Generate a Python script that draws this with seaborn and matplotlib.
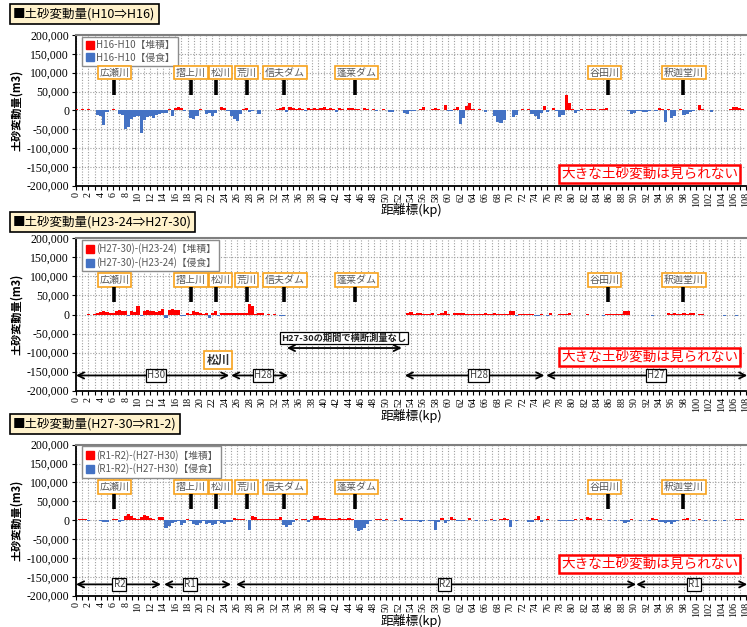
import numpy as np
import pandas as pd
import matplotlib
matplotlib.use("Agg")
import matplotlib.pyplot as plt
import seaborn as sns
from matplotlib.lines import Line2D
from matplotlib.ticker import MultipleLocator, FuncFormatter

sns.set_theme(style="white")
plt.rcParams["font.family"] = ["Noto Sans CJK JP", "DejaVu Sans"]

# ---------------- data (thousand m3, every 0.5 kp from 0 to 107.5) ----------------
p1_h10_h16 = [
    3, 2, 3, 2, 4, 2, 1, -12, -16, -38, -5, 2, 3, 1, -10, -12, -50, -45, -22, -18,
    -15, -60, -25, -18, -14, -20, -12, -10, -8, -8, 3, -15, 6, 8, 5, -3, 2, -20, -22, -15,
    3, 2, -10, -6, -15, -8, 2, 8, 7, -3, -15, -22, -28, -10, 4, 5, -5, -3, 2, -10,
    2, 2, 1, 2, 2, 3, 5, 8, -4, 10, 7, 4, 6, 3, -3, 5, 4, 6, 3, 5,
    8, 3, 5, 4, -5, 6, 3, 2, 5, 7, 3, 4, 2, 6, 3, 2, 3, -2, 2, 3,
    2, -5, -4, 2, 1, 2, -8, -10, -2, -3, 2, 3, 8, 2, 2, 3, 5, 3, 2, 15,
    -3, -2, 3, 8, -35, -20, 12, 20, 3, 2, 3, 2, -5, 2, 1, -15, -30, -33, -25, 2,
    2, -18, -12, 2, 3, 2, 3, -10, -15, -22, -8, 12, -5, 2, 5, -3, -18, -12, 40, 20,
    3, -8, -3, 3, 2, 4, 4, 3, 2, 4, 3, 5, 2, 1, 2, 2, 2, 2, -3, -10,
    -8, -3, -2, -5, -4, -2, 2, -2, 5, 4, -30, 3, -20, -15, 2, 4, -12, -10, -5, -3,
    2, 15, 4, 2, 2, -5, 2, 2, 1, 2, 2, 3, 10, 8, 5, 3,
]
p2_h23_h27 = [
    -1, -1, 0, -1, 1, -1, 2, 4, 6, 8, 6, 4, 5, 10, 11, 9, 8, -5, 8, 7,
    22, -3, 10, 12, 10, 8, 6, 9, 15, -10, 12, 15, 11, 13, -5, -5, 3, 2, 8, 7,
    3, 2, 4, -8, 3, 10, -3, 4, 3, 5, 4, 3, 3, 4, 5, 3, 28, 22, 2, 3,
    3, -2, 1, -2, 2, -2, -5, -3, 0, 0, 0, 0, 0, 0, 0, 0, 0, 0, 0, 0,
    0, 0, 0, 0, 0, 0, 0, 0, 0, 0, 0, 0, 0, 0, 0, 0, 0, 0, 0, 0,
    0, 0, 0, 0, 0, 0, 0, 5, 6, 2, 3, 3, 2, 1, 2, 3, -2, 2, 3, 10,
    2, -2, 5, 4, 3, 3, 2, 2, 1, 2, 2, 2, 3, 2, 2, 3, 2, 2, 2, 2,
    10, 8, -5, 2, 2, 2, 2, 1, -3, -5, 2, -2, -3, 3, -2, -2, 2, 2, 2, 3,
    -1, -1, -2, -1, -1, 2, -1, -1, -2, -2, -3, 2, 2, 2, 2, 2, 2, 8, 8, -1,
    -1, -2, -1, -1, -2, -1, -3, -1, -1, -1, -1, 3, 2, 3, 2, 2, 3, 2, 3, 5,
    -1, 2, 2, -1, -2, -2, -1, -2, -2, -3, -2, -2, -2, -3, -2, -2,
]
p3_h27_r1 = [
    1, 2, 3, 2, -1, 1, 1, 1, -3, -5, -4, 1, 2, 2, -5, -3, 10, 17, 12, 5,
    4, 8, 15, 12, 5, 3, 1, 8, 8, -20, -15, -8, -5, -2, -12, -8, 2, -2, -10, -12,
    -8, -2, -10, -8, -12, -10, -3, -8, -10, -6, -5, 5, 3, 2, 3, 1, -25, 10, 8, 3,
    2, 2, 2, 3, 2, 4, 8, -12, -18, -12, -5, 2, 1, 3, 2, -5, 2, 12, 10, 5,
    5, 4, 3, 2, 4, 5, 3, 4, 5, 3, -20, -28, -25, -20, -10, -3, 1, 3, 2, -1,
    3, 1, 1, -1, 1, 5, -3, -1, -1, -1, -2, -5, -1, 1, -1, -1, -25, -5, 5, -8,
    -2, 8, 3, -1, -3, -1, 1, 5, 1, -1, 1, 1, -1, 1, 3, -3, 1, 2, 5, 2,
    -18, 1, -3, 1, 1, 1, -5, -4, 2, 10, -5, 1, 3, 1, 1, 1, -1, -3, -3, -2,
    -3, 3, 1, 3, 1, 8, 5, 1, 2, 2, 1, 1, -1, 1, -1, 1, -1, -8, -6, 3,
    1, 1, -1, 1, 1, -1, 5, 4, -5, -6, -8, -6, -10, -5, -2, 1, 2, 5, 1, -1,
    1, 3, 1, -1, 1, 1, -1, 1, 1, -1, 1, 1, 1, 2, 3, 3,
]
series = [p1_h10_h16, p2_h23_h27, p3_h27_r1]
kp = np.arange(len(p1_h10_h16)) * 0.5

titles = ["■土砂変動量(H10⇒H16)", "■土砂変動量(H23-24⇒H27-30)", "■土砂変動量(H27-30⇒R1-2)"]
legend_names = [
    ["H16-H10【堆積】", "H16-H10【侵食】"],
    ["(H27-30)-(H23-24)【堆積】", "(H27-30)-(H23-24)【侵食】"],
    ["(R1-R2)-(H27-H30)【堆積】", "(R1-R2)-(H27-H30)【侵食】"],
]
trib_names = ["広瀬川", "摺上川", "松川", "荒川", "信夫ダム", "蓬莱ダム", "谷田川", "釈迦堂川"]
trib_kp = [6.2, 18.6, 22.5, 27.5, 33.5, 45.0, 85.7, 97.9]
trib_label_kp = [6.2, 18.5, 23.3, 27.5, 33.7, 45.2, 85.2, 98.0]

p2_periods = ["H30", "H28", "H28", "H27"]
p2_start = [0.0, 25.0, 53.0, 75.8]
p2_end = [24.7, 34.2, 75.5, 108.2]
p2_label_kp = [12.9, 30.1, 64.9, 93.5]
p3_periods = ["R2", "R1", "R2", "R1"]
p3_start = [0.0, 14.2, 25.8, 90.3]
p3_end = [13.7, 25.0, 90.3, 108.2]
p3_label_kp = [7.0, 18.4, 59.4, 99.6]

note_text = "大きな土砂変動は見られない"
RED = "#FF0000"
BLUE = "#4472C4"
ORANGE = "#F7A21B"
GRAYTXT = "#595959"

W, H = 747, 627
fig = plt.figure(figsize=(W / 100, H / 100), dpi=100)

ax_px = [(35, 185.7), (238.3, 390.7), (444.7, 595.7)]
left_px, right_px = 76, 746
title_y = [14, 222, 424]
label_y = [100000, 90000, 88000]
bar_rng = [(40000, 80000), (33000, 71000), (30000, 70000)]
note_y = [-169000, -111500, -115000]

fmt = FuncFormatter(lambda v, p: f"{int(round(v)):,}")

for i in range(3):
    top, bot = ax_px[i]
    ax = fig.add_axes([left_px / W, 1 - bot / H, (right_px - left_px) / W, (bot - top) / H])
    vals = np.array(series[i], dtype=float) * 1000
    df = pd.DataFrame({"kp": kp,
                       "dep": np.where(vals > 0, vals, 0.0),
                       "ero": np.where(vals < 0, vals, 0.0)})
    sns.barplot(data=df, x="kp", y="dep", native_scale=True, width=1.0, color=RED,
                saturation=1, linewidth=0, errorbar=None, ax=ax, zorder=3)
    sns.barplot(data=df, x="kp", y="ero", native_scale=True, width=1.0, color=BLUE,
                saturation=1, linewidth=0, errorbar=None, ax=ax, zorder=3)
    ax.set_xlim(0, 108)
    ax.set_ylim(-200000, 200000)
    ax.xaxis.set_major_locator(MultipleLocator(2))
    ax.xaxis.set_minor_locator(MultipleLocator(1))
    ax.yaxis.set_major_locator(MultipleLocator(50000))
    ax.yaxis.set_major_formatter(fmt)
    ax.xaxis.set_major_formatter(FuncFormatter(lambda v, p: f"{int(round(v))}"))
    ax.grid(axis="x", which="both", ls=(0, (1, 1.5)), color="#a0a0a0", lw=0.8)
    ax.grid(axis="y", which="major", ls=(0, (1, 1.5)), color="#a0a0a0", lw=0.8)
    ax.set_axisbelow(True)
    ax.tick_params(axis="x", which="both", bottom=True, direction="out", length=3,
                   width=0.8, color="black")
    ax.tick_params(axis="x", which="major", labelsize=7.2, labelrotation=90, pad=1.5,
                   labelfontfamily="Liberation Serif", labelcolor="black")
    ax.tick_params(axis="y", which="major", left=True, direction="out", length=3,
                   width=0.8, color="black", labelsize=8.5, pad=2,
                   labelfontfamily="Liberation Serif", labelcolor="black")
    for s in ["left", "bottom"]:
        ax.spines[s].set_color("black")
        ax.spines[s].set_linewidth(1.3)
    ax.spines["top"].set_color("#7f7f7f")
    ax.spines["top"].set_linewidth(1.5)
    ax.spines["right"].set_visible(False)
    ax.set_xlabel("距離標(kp)", fontsize=9.2, color="black")
    ax.set_ylabel("土砂変動量(m3)", fontsize=8, color="black", fontweight="bold")
    ax.xaxis.set_label_coords(0.5, -0.118)
    ax.yaxis.set_label_coords(-0.079, 0.5)

    # legend
    handles = [Line2D([], [], marker="s", ls="", color=RED, markersize=5.5),
               Line2D([], [], marker="s", ls="", color=BLUE, markersize=5.5)]
    leg = ax.legend(handles, legend_names[i], loc="upper left", bbox_to_anchor=(0.009, 0.99),
                    fontsize=7, frameon=True, fancybox=False, edgecolor="#8c8c8c",
                    framealpha=1, handletextpad=0.2, borderpad=0.35, labelspacing=0.3,
                    handlelength=0.9, borderaxespad=0, labelcolor=GRAYTXT)
    leg.get_frame().set_linewidth(1.0)
    leg.set_zorder(6)

    # tributary labels
    for name, bx, lx in zip(trib_names, trib_kp, trib_label_kp):
        ax.text(lx, label_y[i], name, ha="center", va="center", fontsize=7.2, color=GRAYTXT,
                zorder=7, bbox=dict(boxstyle="square,pad=0.18", fc="white", ec=ORANGE, lw=1.2))
        ax.vlines(bx, bar_rng[i][0], bar_rng[i][1], color="black", lw=2.6, zorder=7)

    # note
    ax.text(92.5, note_y[i], note_text, ha="center", va="center", fontsize=9.8, color=RED,
            zorder=8, bbox=dict(boxstyle="square,pad=0.15", fc="white", ec=RED, lw=1.8))

    # title
    fig.text(13 / W, 1 - title_y[i] / H, titles[i], ha="left", va="center", fontsize=9,
             color="black", bbox=dict(boxstyle="square,pad=0.28", fc="#FFF2CC", ec="black", lw=1.2))

    def darrow(x0, x1, y):
        ax.annotate("", xy=(x1, y), xytext=(x0, y), annotation_clip=False, zorder=5,
                    arrowprops=dict(arrowstyle="<->", color="black", lw=1.3,
                                    shrinkA=0, shrinkB=0, mutation_scale=11))

    def plabel(x, y, t):
        ax.text(x, y, t, ha="center", va="center", fontsize=7, color="#404040", zorder=6,
                bbox=dict(boxstyle="square,pad=0.12", fc="white", ec="black", lw=0.9))

    if i == 1:
        for s, e, t, lx in zip(p2_start, p2_end, p2_periods, p2_label_kp):
            darrow(s, e, -160000)
            plabel(lx, -160000, t)
        darrow(34.0, 52.5, -88000)
        ax.text(43.2, -61500, "H27-30の期間で横断測量なし", ha="center", va="center",
                fontsize=6.7, fontweight="bold", color="#202020", zorder=6,
                bbox=dict(boxstyle="square,pad=0.15", fc="white", ec="black", lw=0.9))
        ax.text(22.9, -120000, "松川", ha="center", va="center", fontsize=8.5,
                fontweight="bold", color="#303030", zorder=6,
                bbox=dict(boxstyle="square,pad=0.2", fc="white", ec=ORANGE, lw=1.2))
    if i == 2:
        for s, e, t, lx in zip(p3_start, p3_end, p3_periods, p3_label_kp):
            darrow(s, e, -170000)
            plabel(lx, -170000, t)

fig.savefig("out.png", dpi=100)
